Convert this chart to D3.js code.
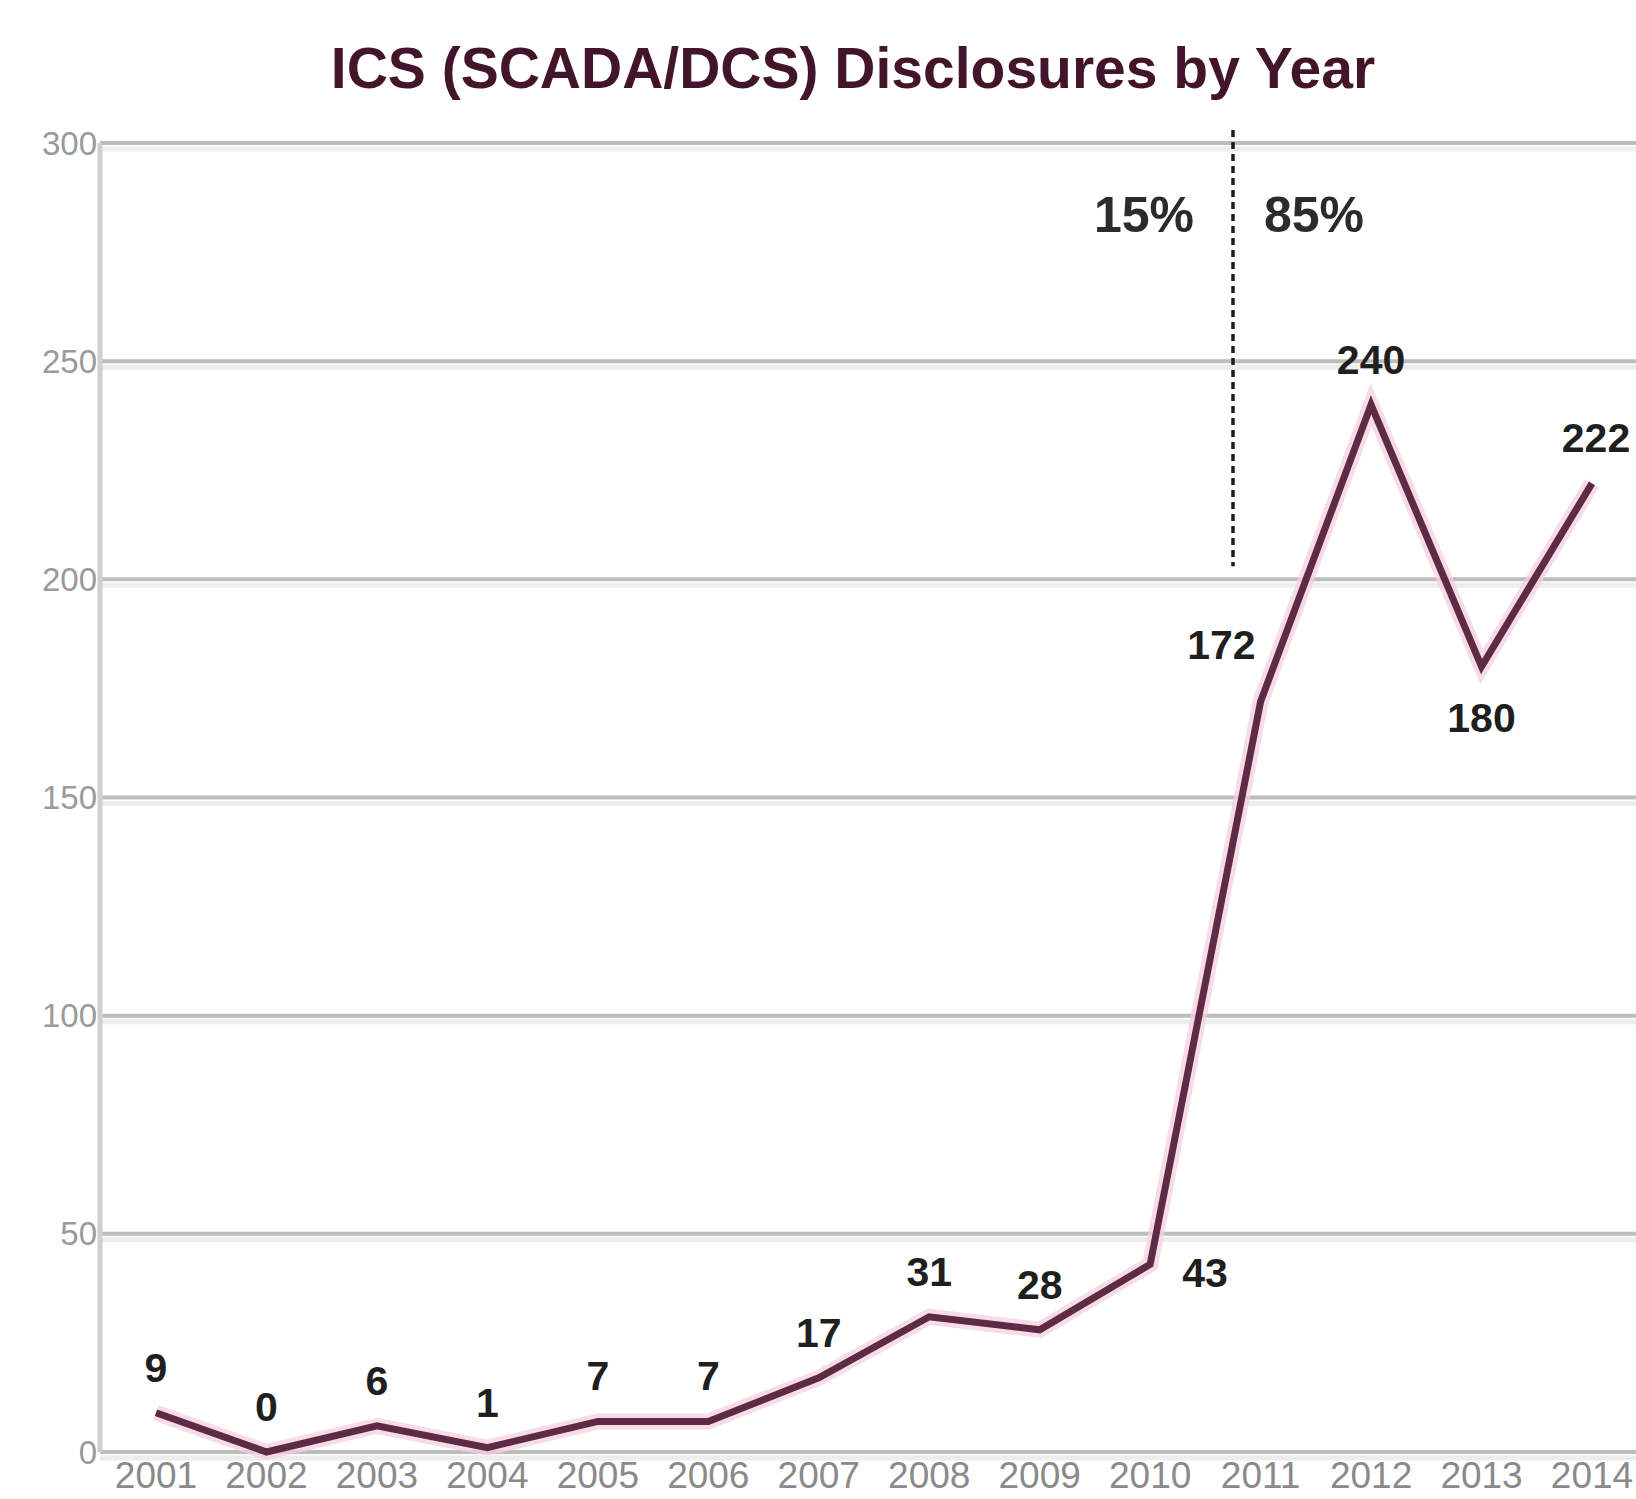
<!DOCTYPE html>
<html>
<head>
<meta charset="utf-8">
<script src="https://cdn.jsdelivr.net/npm/d3@7"></script>
<style>
  html, body { margin: 0; padding: 0; background: #fff; }
  svg { display: block; font-family: "Liberation Sans", Arial, sans-serif; }
</style>
</head>
<body>
<div id="chart"></div>
<script>
// values
var years = [2001, 2002, 2003, 2004, 2005, 2006, 2007, 2008, 2009, 2010, 2011, 2012, 2013, 2014];
var disclosures = [9, 0, 6, 1, 7, 7, 17, 31, 28, 43, 172, 240, 180, 222];
var yTicks = [0, 50, 100, 150, 200, 250, 300];
var splitYear = 2010.75;          // where the dashed divider sits
var shareLabels = ["15%", "85%"]; // before / after the divider
var chartTitle = "ICS (SCADA/DCS) Disclosures by Year";

var data = years.map(function(y, i) { return {year: y, value: disclosures[i]}; });

var width = 1636, height = 1499;
var axisX = 100;

var svg = d3.select("#chart").append("svg")
    .attr("width", width)
    .attr("height", height);

var x = d3.scaleLinear()
    .domain([2001, 2014])
    .range([156, 1592]);

var y = d3.scaleLinear()
    .domain([0, 300])
    .range([1452, 143]);

// title
svg.append("text")
    .attr("x", 853)
    .attr("y", 88)
    .attr("text-anchor", "middle")
    .attr("font-size", 57)
    .attr("font-weight", "bold")
    .attr("fill", "#43152b")
    .text(chartTitle);

// gridlines (with the soft light band under each one)
var grid = svg.append("g");
grid.selectAll("line.soft")
    .data(yTicks)
    .enter().append("line")
      .attr("class", "soft")
      .attr("x1", axisX).attr("x2", width)
      .attr("y1", function(d) { return y(d) + 6; })
      .attr("y2", function(d) { return y(d) + 6; })
      .attr("stroke", "#ededed")
      .attr("stroke-width", 5);
grid.selectAll("line.main")
    .data(yTicks)
    .enter().append("line")
      .attr("class", "main")
      .attr("x1", axisX).attr("x2", width)
      .attr("y1", function(d) { return y(d); })
      .attr("y2", function(d) { return y(d); })
      .attr("stroke", "#bdbdbd")
      .attr("stroke-width", 4);

// y axis line
svg.append("line")
    .attr("x1", axisX).attr("x2", axisX)
    .attr("y1", y(300)).attr("y2", y(0))
    .attr("stroke", "#cfcfcf")
    .attr("stroke-width", 5);

// y tick labels
svg.append("g")
  .selectAll("text")
  .data(yTicks)
  .enter().append("text")
    .attr("x", 97)
    .attr("y", function(d) { return y(d); })
    .attr("dy", "0.35em")
    .attr("text-anchor", "end")
    .attr("font-size", 33)
    .attr("fill", "#9a9a9a")
    .text(function(d) { return d; });

// x tick labels
svg.append("g")
  .selectAll("text")
  .data(years)
  .enter().append("text")
    .attr("x", function(d) { return x(d); })
    .attr("y", 1488)
    .attr("text-anchor", "middle")
    .attr("font-size", 37)
    .attr("fill", "#8a8a8a")
    .text(function(d) { return d; });

// dashed divider + shares
svg.append("line")
    .attr("x1", x(splitYear)).attr("x2", x(splitYear))
    .attr("y1", y(303)).attr("y2", y(203))
    .attr("stroke", "#1c1c1c")
    .attr("stroke-width", 3.5)
    .attr("stroke-dasharray", "7,5");

svg.append("text")
    .attr("x", x(splitYear) - 39)
    .attr("y", 232)
    .attr("text-anchor", "end")
    .attr("font-size", 50)
    .attr("font-weight", "bold")
    .attr("fill", "#2b2b2b")
    .text(shareLabels[0]);

svg.append("text")
    .attr("x", x(splitYear) + 31)
    .attr("y", 232)
    .attr("text-anchor", "start")
    .attr("font-size", 50)
    .attr("font-weight", "bold")
    .attr("fill", "#2b2b2b")
    .text(shareLabels[1]);

// the line
var line = d3.line()
    .x(function(d) { return x(d.year); })
    .y(function(d) { return y(d.value); });

svg.append("path")
    .datum(data)
    .attr("d", line)
    .attr("fill", "none")
    .attr("stroke", "#f4cfde")
    .attr("stroke-width", 16)
    .attr("stroke-linejoin", "miter")
    .attr("opacity", 0.75);

svg.append("path")
    .datum(data)
    .attr("d", line)
    .attr("fill", "none")
    .attr("stroke", "#5e2b44")
    .attr("stroke-width", 7)
    .attr("stroke-linejoin", "miter");

// value labels - most sit above the point, a few are moved off the line
var place = {2010: "right", 2011: "left", 2013: "below"};

svg.append("g")
  .selectAll("text")
  .data(data)
  .enter().append("text")
    .attr("x", function(d) {
      var p = place[d.year];
      if (p === "right") return x(d.year) + 32;
      if (p === "left") return x(d.year) - 5;
      return x(d.year) + (d.year === 2014 ? 4 : 0);
    })
    .attr("y", function(d) {
      var p = place[d.year];
      if (p === "right") return y(d.value) + 23;
      if (p === "left") return y(d.value) - 43;
      if (p === "below") return y(d.value) + 65;
      return y(d.value) - 31;
    })
    .attr("text-anchor", function(d) {
      var p = place[d.year];
      return p === "right" ? "start" : (p === "left" ? "end" : "middle");
    })
    .attr("font-size", 41)
    .attr("font-weight", "bold")
    .attr("fill", "#1f1f1f")
    .text(function(d) { return d.value; });
</script>
</body>
</html>
